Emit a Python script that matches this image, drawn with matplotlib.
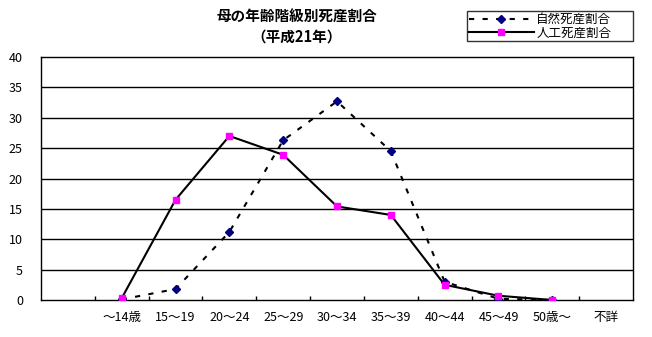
import matplotlib
matplotlib.use('Agg')
import matplotlib.pyplot as plt
import numpy as np

plt.rcParams['font.family'] = ['Noto Sans CJK JP', 'DejaVu Sans']

# age groups of the mother (first slot left blank on the axis)
categories = ['', '～14歳', '15～19', '20～24', '25～29', '30～34',
              '35～39', '40～44', '45～49', '50歳～', '不詳']
# 自然死産割合 (%)
natural = [np.nan, 0.1, 1.8, 11.2, 26.3, 32.7, 24.5, 3.0, 0.2, 0.0, np.nan]
# 人工死産割合 (%)
artificial = [np.nan, 0.3, 16.5, 27.0, 23.9, 15.4, 14.0, 2.5, 0.7, 0.0, np.nan]

fig = plt.figure(figsize=(6.52, 3.37), dpi=100)
ax = fig.add_axes([41 / 652, 1 - 300 / 337, 592 / 652, 243 / 337])

x = np.arange(len(categories)) + 0.5

ax.plot(x, natural, color='black', lw=1.5, linestyle=(0, (2.5, 4)),
        marker='D', markersize=4, markerfacecolor='#000080',
        markeredgecolor='#000080', label='自然死産割合', zorder=3)
ax.plot(x, artificial, color='black', lw=1.5, marker='s', markersize=5,
        markerfacecolor='#FF00FF', markeredgecolor='#FF00FF',
        label='人工死産割合', zorder=4)

ax.set_xlim(0, len(categories))
ax.set_ylim(0, 40)
ax.set_yticks(range(0, 41, 5))
ax.set_xticks(x)
ax.set_xticklabels(categories)
ax.set_xticks(np.arange(1, len(categories)), minor=True)

for v in range(5, 40, 5):
    ax.axhline(v, color='black', lw=1, zorder=1)

for s in ax.spines.values():
    s.set_color('black')
    s.set_linewidth(1)

ax.tick_params(axis='y', length=0, pad=13, labelsize=9)
ax.tick_params(axis='x', which='major', length=0, pad=8, labelsize=9)
ax.tick_params(axis='x', which='minor', direction='in', length=3, width=1)

fig.text(297 / 652, 1 - 17 / 337, '母の年齢階級別死産割合', ha='center', va='center',
         fontsize=10.5, fontweight='bold')
fig.text(297 / 652, 1 - 37 / 337, '（平成21年）', ha='center', va='center',
         fontsize=10.5, fontweight='bold')

# legend box stretched to the right edge of the plot
leg = fig.legend(loc='upper left',
                 bbox_to_anchor=(467 / 652, 1 - 45 / 337, 166 / 652, 34 / 337),
                 mode='expand', frameon=True, fancybox=False, edgecolor='black',
                 fontsize=9, handlelength=5.2, borderpad=0.15, labelspacing=0.05,
                 handletextpad=0.2, borderaxespad=0)
leg.get_frame().set_linewidth(1)

fig.savefig('out.png', dpi=100)
